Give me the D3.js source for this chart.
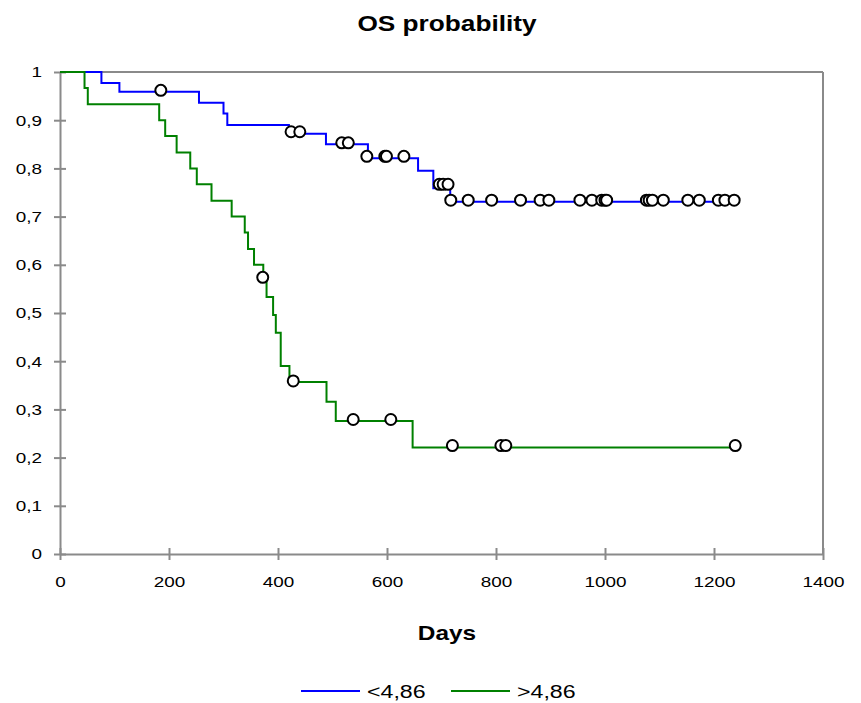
<!DOCTYPE html>
<html>
<head>
<meta charset="utf-8">
<script src="https://cdn.jsdelivr.net/npm/d3@7"></script>
<style>
  body { margin: 0; background: #fff; }
  text { font-family: "Liberation Sans", Arial, Helvetica, sans-serif; }
</style>
</head>
<body>
<div id="chart"></div>
<script>
// ---- data ----
const yTicks = [0, 0.1, 0.2, 0.3, 0.4, 0.5, 0.6, 0.7, 0.8, 0.9, 1];
const xTicks = [0, 200, 400, 600, 800, 1000, 1200, 1400];

// group <4,86 (blue)
const lowDays = [0, 76, 109, 255, 300, 307, 420, 488, 565, 657, 685, 716, 1237];
const lowSurv = [1, 0.977, 0.959, 0.936, 0.914, 0.890, 0.872, 0.850, 0.821, 0.795, 0.759, 0.731, 0.731];
const lowCensDays = [185, 424, 440, 517, 529, 563, 596, 599, 631, 696, 703, 712,
  717, 749, 792, 845, 881, 897, 954, 976, 994, 1000, 1003, 1076, 1081, 1087, 1107, 1152, 1173, 1208, 1220, 1237];
const lowCensSurv = [0.962, 0.876, 0.876, 0.853, 0.853, 0.825, 0.825, 0.825, 0.825, 0.767, 0.767, 0.767,
  0.734, 0.734, 0.734, 0.734, 0.734, 0.734, 0.734, 0.734, 0.734, 0.734, 0.734, 0.734, 0.734, 0.734, 0.734, 0.734, 0.734, 0.734, 0.734, 0.734];

// group >4,86 (green)
const highDays = [0, 45, 51, 182, 193, 214, 239, 251, 278, 315, 339, 345, 356, 373, 379, 391, 396, 405, 421, 489, 506, 647, 1239];
const highSurv = [1, 0.967, 0.933, 0.9, 0.867, 0.833, 0.8, 0.767, 0.733, 0.7, 0.667, 0.633, 0.6, 0.567, 0.533, 0.496, 0.459, 0.39, 0.357, 0.316, 0.276, 0.221, 0.221];
const highCensDays = [372, 428, 538, 607, 720, 809, 818, 1239];
const highCensSurv = [0.574, 0.359, 0.279, 0.279, 0.225, 0.225, 0.225, 0.225];

const seriesNames = ["<4,86", ">4,86"];
const seriesColors = ["#0000ff", "#008000"];

// ---- chart ----
const width = 861, height = 703;
const margin = { top: 72, right: 38, bottom: 149, left: 60 };
const stretch = 1.22; // the reference text is drawn wide

const svg = d3.select("#chart").append("svg")
  .attr("width", width)
  .attr("height", height);

const x = d3.scaleLinear().domain([0, 1400]).range([margin.left, width - margin.right]);
const y = d3.scaleLinear().domain([0, 1]).range([height - margin.bottom, margin.top]);

const axisColor = "#8a8a8a";

// frame (top + right)
svg.append("line")
  .attr("x1", x(0)).attr("x2", x(1400))
  .attr("y1", y(1)).attr("y2", y(1))
  .attr("stroke", axisColor).attr("stroke-width", 2);
svg.append("line")
  .attr("x1", x(1400)).attr("x2", x(1400))
  .attr("y1", y(1)).attr("y2", y(0))
  .attr("stroke", axisColor).attr("stroke-width", 2);

// x axis
const xAxis = svg.append("g")
  .attr("transform", `translate(0,${y(0)})`)
  .call(d3.axisBottom(x).tickValues(xTicks).tickSize(0).tickPadding(22).tickFormat(d3.format("d")));
xAxis.select(".domain").attr("stroke", axisColor).attr("stroke-width", 2);
xAxis.selectAll(".tick line").remove();
xAxis.selectAll(".tick").append("line")
  .attr("y1", -6).attr("y2", 6)
  .attr("stroke", axisColor).attr("stroke-width", 2);
xAxis.selectAll("text")
  .attr("font-size", 15.5).attr("fill", "#000")
  .attr("font-family", "'Liberation Sans', Arial, sans-serif")
  .attr("transform", `scale(${stretch},1)`);

// y axis
const yPad = 18;
const yAxis = svg.append("g")
  .attr("transform", `translate(${x(0)},0)`)
  .call(d3.axisLeft(y).tickValues(yTicks).tickSize(0).tickPadding(yPad)
    .tickFormat(d => d === 0 || d === 1 ? String(d) : d3.format(".1f")(d).replace(".", ",")));
yAxis.select(".domain").attr("stroke", axisColor).attr("stroke-width", 2);
yAxis.selectAll(".tick line").remove();
yAxis.selectAll(".tick").append("line")
  .attr("x1", -6).attr("x2", 6)
  .attr("stroke", axisColor).attr("stroke-width", 2);
yAxis.selectAll("text")
  .attr("font-size", 15.5).attr("fill", "#000")
  .attr("font-family", "'Liberation Sans', Arial, sans-serif")
  .attr("x", -yPad / stretch)
  .attr("transform", `scale(${stretch},1)`);

// curves
const line = d3.line()
  .x(d => x(d[0]))
  .y(d => y(d[1]))
  .curve(d3.curveStepAfter);

const curves = [
  { days: lowDays, surv: lowSurv, cDays: lowCensDays, cSurv: lowCensSurv, color: seriesColors[0] },
  { days: highDays, surv: highSurv, cDays: highCensDays, cSurv: highCensSurv, color: seriesColors[1] }
];

curves.forEach(c => {
  svg.append("path")
    .datum(c.days.map((d, i) => [d, c.surv[i]]))
    .attr("d", line)
    .attr("fill", "none")
    .attr("stroke", c.color)
    .attr("stroke-width", 2);
});

curves.forEach(c => {
  svg.append("g").selectAll("circle")
    .data(c.cDays.map((d, i) => [d, c.cSurv[i]]))
    .enter()
    .append("circle")
    .attr("cx", d => x(d[0]))
    .attr("cy", d => y(d[1]))
    .attr("r", 5.5)
    .attr("fill", "#fff")
    .attr("stroke", "#000")
    .attr("stroke-width", 2);
});

// titles
svg.append("text")
  .attr("transform", `translate(447,31) scale(${stretch},1)`)
  .attr("text-anchor", "middle")
  .attr("font-size", 21.5).attr("font-weight", "bold")
  .text("OS probability");

svg.append("text")
  .attr("transform", `translate(447,640) scale(${stretch},1)`)
  .attr("text-anchor", "middle")
  .attr("font-size", 20).attr("font-weight", "bold")
  .text("Days");

// legend
const legend = svg.append("g").attr("transform", "translate(301,691)");
seriesNames.forEach((name, i) => {
  const g = legend.append("g").attr("transform", `translate(${i * 150},0)`);
  g.append("line")
    .attr("x1", 0).attr("x2", 59)
    .attr("stroke", seriesColors[i]).attr("stroke-width", 2);
  g.append("text")
    .attr("transform", `translate(66,7) scale(${stretch},1)`)
    .attr("font-size", 19)
    .text(name);
});
</script>
</body>
</html>
